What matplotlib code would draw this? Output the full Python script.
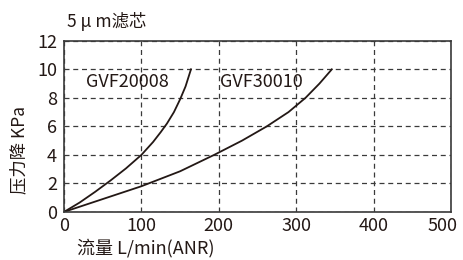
import numpy as np
import matplotlib.pyplot as plt
import matplotlib.transforms as mtransforms

plt.rcParams['font.family'] = ['Noto Sans CJK SC', 'DejaVu Sans']

gvf20008_x = [0, 20, 40, 60, 80, 100, 115, 125, 133, 142, 150, 157, 164]
gvf20008_y = [0, 0.65, 1.4, 2.2, 3.05, 4.0, 4.9, 5.6, 6.2, 7.0, 7.9, 8.8, 10.0]
gvf30010_x = [0, 50, 100, 150, 194, 230, 262, 290, 312, 330, 346]
gvf30010_y = [0, 0.9, 1.8, 2.85, 4.0, 5.0, 6.0, 7.0, 8.0, 9.0, 10.0]
xticks = [0, 100, 200, 300, 400, 500]
yticks = [0, 2, 4, 6, 8, 10, 12]

fig = plt.figure(figsize=(4.64, 2.6), dpi=100)
ax = fig.add_axes([0.138, 0.185, 0.834, 0.658])

ax.plot(gvf20008_x, gvf20008_y, color='#231815', lw=1.3)
ax.plot(gvf30010_x, gvf30010_y, color='#231815', lw=1.3)

ax.set_xlim(0, 500)
ax.set_ylim(0, 12)
ax.set_xticks(xticks)
ax.set_yticks(yticks)
ax.tick_params(length=0, labelsize=13, colors='#231815')
ax.tick_params(axis='x', pad=4)
ax.tick_params(axis='y', pad=5)
ax.grid(True, linestyle=(0, (4, 3)), color='#3a3a3a', lw=0.9)
for s in ax.spines.values():
    s.set_color('#3a3a3a')
    s.set_linewidth(1.2)

# pull the last x tick label in a little so it stays inside the figure
last = ax.get_xticklabels()[-1]
last.set_transform(last.get_transform() +
                   mtransforms.ScaledTranslation(-6 / 72, 0, fig.dpi_scale_trans))

ax.text(29, 9.1, 'GVF20008', fontsize=13, color='#231815', va='center')
ax.text(202, 9.1, 'GVF30010', fontsize=13, color='#231815', va='center')

fig.text(0.145, 0.918, '5 μ m滤芯', fontsize=12.5, color='#231815', va='center')
fig.text(0.041, 0.425, '压力降 KPa', fontsize=12.5, color='#231815',
         rotation=90, ha='center', va='center')
fig.text(0.167, 0.045, '流量 L/min(ANR)', fontsize=13, color='#231815',
         ha='left', va='center')

fig.savefig('out.png', dpi=100)
